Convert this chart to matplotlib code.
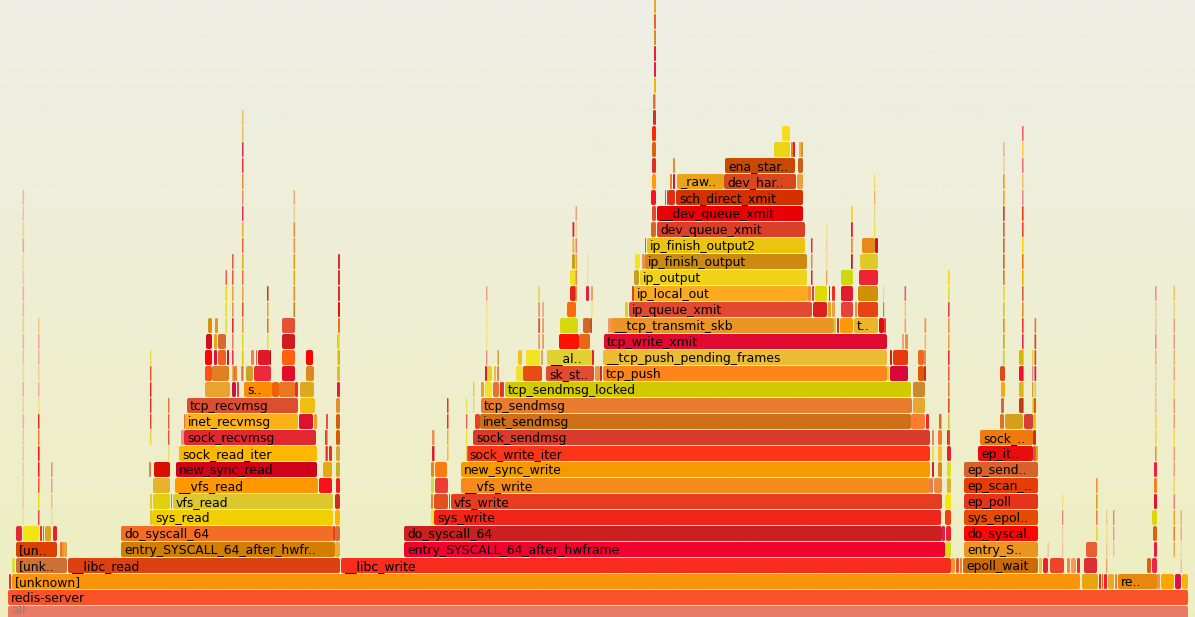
import numpy as np
import matplotlib
matplotlib.use("Agg")
import matplotlib.pyplot as plt
from matplotlib.patches import FancyBboxPatch

# ---- frames per stack depth: sample start, sample end, colour ----
s00=[8]; e00=[1188]; c00=['#e87a66']
s01=[8]; e01=[1188]; c01=['#fb5229']
s02=[9,12,1082,1099,1102,1104,1108,1115,1118,1157,1161,1175,1182]
e02=[11,1080,1098,1101,1103,1107,1114,1117,1157,1160,1174,1181,1188]
c02=['#e03040','#fd930a','#e8a510','#e83010','#f06020','#ee2030','#e8a82a','#f08030','#e8870e','#f09050','#ffa500','#e0104a','#f5b510']
s03=[12,16,68,341,951,956,960,963,1039,1043,1050,1067,1071,1077,1084,1147,1152]
e03=[15,67,340,951,955,959,962,1038,1042,1048,1064,1070,1076,1080,1097,1151,1157]
c03=['#d8e040','#cf7136','#dd4012','#f92d1d','#e0a030','#f05030','#f08030','#cc6a05','#e8c040','#ee2030','#f04428','#f08850','#f09860','#e83030','#dd2c35','#e85a10','#e82848']
s04=[16,60,62,64,121,335,404,945,964,1086,1154]
e04=[57,62,64,67,335,340,945,951,1038,1097,1157]
c04=['#dc4004','#f07020','#f09030','#eca040','#d27f00','#e8ae34','#f0032f','#d4de10','#ec9520','#e86030','#e81c40']
s05=[16,23,40,43,45,53,121,333,335,404,942,946,964,1153]
e05=[22,39,42,44,51,57,333,335,340,942,945,951,1038,1157]
c05=['#e52a35','#f2e510','#e83040','#f06030','#e0a518','#e82030','#f36d25','#e84010','#dc6b3a','#cc2020','#dc2050','#f32030','#ff0505','#e06010']
s06=[150,152,335,431,434,945,964,1152]
e06=[152,333,340,434,941,951,1038,1157]
c06=['#e0c040','#f4cf00','#ffb400','#f2e520','#f02418','#f04010','#e64b05','#d8d810']
s07=[150,153,171,173,335,431,434,449,451,945,964,1154]
e07=[152,170,172,333,340,433,448,450,942,951,1038,1157]
c07=['#e8c830','#e0d010','#f07030','#dcc82e','#d02c1c','#f08030','#e05020','#e84030','#e63c20','#f4e808','#e5341a','#e81030']
s08=[153,175,319,336,431,435,461,930,934,947,964,1154]
e08=[170,318,332,340,434,448,930,933,942,951,1038,1157]
c08=['#e6b42c','#ff9800','#fe1018','#f01c20','#c8e040','#ee3c38','#f68a1a','#e08050','#f08840','#e0b030','#e83c08','#f08020']
s09=[149,154,176,323,336,431,435,461,932,938,947,964,1154]
e09=[151,170,317,332,340,434,447,930,934,942,951,1038,1157]
c09=['#e08050','#d81000','#d0021a','#e6a816','#c8b020','#f08020','#fa7c10','#f49b02','#d81c30','#d88820','#d8e020','#d8622c','#f02040']
s10=[179,325,329,336,432,466,932,938,947,978,1033,1036]
e10=[317,328,332,340,434,930,934,942,951,1033,1036,1038]
c10=['#ffb700','#f0a020','#e83020','#d8a840','#e02030','#fc3519','#e0e060','#f4c030','#e82030','#e80e0e','#c86048','#f0a000']
s11=[181,184,325,336,432,473,932,938,947,980,1033]
e11=[184,316,327,340,433,930,934,942,950,1033,1036]
c11=['#f09080','#e12830','#e83050','#d85c04','#e89050','#d83a2c','#e08080','#f07830','#e02030','#f0780c','#d03010']
s12=[184,185,299,314,326,336,475,480,911,926,939,1000,1005,1024,1033]
e12=[185,298,313,317,328,340,480,911,925,929,941,1004,1023,1033,1036]
c12=['#e87050','#feb017','#e01030','#f0a020','#e85040','#d06010','#e84020','#cf6f17','#fc7c30','#f02828','#d07020','#e07020','#d4a01c','#d43f38','#ffc000']
s13=[187,300,336,481,913,1001,1019,1033.5]
e13=[298,315,340,912,925,1004,1023,1036]
c13=['#db4e30','#f0be10','#e09030','#e87d2f','#e6a830','#d06840','#c83810','#f05010']
s14=[205,232,237,244,272,279,295,300,337,481,485,493,500,502,505,913,1001,1019]
e14=[230,236,239,272,279,295,298,314,340,484,492,499,502,504,911,925,1005,1023]
c14=['#e8a42c','#d01040','#e04050','#ff8a05','#f06008','#e87820','#e83030','#e0a820','#f01838','#e8a030','#f4e020','#e87030','#e83010','#d84040','#d2ca00','#cc8830','#f0a818','#d8b810']
s15=[205,212,232,235,241,246,254,282,306,337,485,487,494,497,516,523,546,595,600,603,887,890,918,924,1000,1019]
e15=[212,229,235,237,243,253,271,295,314,340,487,492,496,499,523,542,594,600,602,887,889,908,924,926,1005,1023]
c15=['#fb4f1c','#e08020','#f06040','#f08020','#f09040','#d0a020','#ee2a3a','#e20c2c','#e08820','#e0c020','#e01838','#e8d020','#e0c040','#f08050','#f0e030','#e84c14','#e44a30','#d8a040','#e02020','#fd851a','#f0d020','#d8083a','#e05808','#c03020','#e04818','#f01030']
s16=[205,214,218,227,251,256,258,270,282,306,337,518,526,541,547,592,603,890,893,918,924,1019]
e16=[212,217,226,229,254,257,270,271,295,313,340,522,540,543,592,594,887,892,908,924,926,1023]
c16=['#ff0505','#e01040','#f06020','#d81020','#f08050','#e06040','#e01828','#b81010','#ff6010','#ff0500','#e8e800','#f0c020','#f4e420','#e0a850','#e0d030','#e82020','#ecbb34','#c82010','#e8380c','#f06820','#e09050','#d4b800']
s17=[206,214,218,282,337,559,579,604,902,905]
e17=[212,217,226,295,340,579,590,887,904,908]
c17=['#d01020','#e0a818','#d86830','#d01c20','#e0c020','#ff1005','#e86818','#e00b30','#f0a080','#f09030']
s18=[208,215,282,560,583,590,608,611,834,837,840,854,879,884]
e18=[212,218,295,578,590,592,611,834,836,839,853,878,884,886]
c18=['#d89010','#f09020','#e65034','#d8d810','#d06820','#c05030','#f09860','#ea9526','#d8d020','#d03030','#fa9a08','#ecb428','#e00c0c','#e84030']
s19=[567,625,629,813,828,832,841,855,858]
e19=[576,628,812,827,831,835,853,857,878]
c19=['#ff6a08','#e0d010','#e14930','#de1f20','#e8a020','#e8a040','#e8403a','#f09030','#e64414']
s20=[570,586,591,632,634,808,812,815,829,832,841,858]
e20=[576,589,593,634,808,811,814,827,830,835,853,878]
c20=['#e02818','#e81c40','#f0a060','#d84020','#fbaa21','#f09030','#e04030','#e0d800','#e02020','#f03020','#e01c30','#cf9005']
s21=[570,634,640,841,859]
e21=[576,639,807,853,878]
c21=['#f0e020','#c8a020','#f0d218','#d0d810','#f02235']
s22=[572,635,642,645,860]
e22=[575,640,645,807,878]
c22=['#c8a020','#f0e420','#f09050','#cc8b10','#e0c828']
s23=[645,647,862,875]
e23=[646,805,875,878]
c23=['#e05050','#eac40e','#e88a1a','#d01030']
s24=[651,657]
e24=[656,805]
c24=['#d86820','#dc3f28']
s25=[652,657]
e25=[656,803]
c25=['#e04830','#e80208']
s26=[651,665,667,668,676]
e26=[656,666,668,675,803]
c26=['#fc1024','#e05050','#f03030','#e02c18','#d53000']
s27=[652,670,673,677,724,797]
e27=[656,672,675,724,796,803]
c27=['#ff9c08','#f08020','#e01030','#eaa516','#d9471e','#e8a040']
s28=[652,673,725,798]
e28=[656,675,795,803]
c28=['#e02c28','#e09030','#ca4900','#c86018']
s29=[652,774,791,793,799,801]
e29=[656,790,793,795,801,803]
c29=['#e06010','#ecd418','#f08020','#e02020','#f0b040','#e09030']
s30=[652,782]
e30=[656,790]
c30=['#fb2a04','#f8da20']
s31=[653]; e31=[656]; c31=['#c83820']
s32=[653]; e32=[655.5]; c32=['#e07030']
s33=[654]; e33=[656]; c33=['#e8b800']
s34=[654]; e34=[656]; c34=['#e02040']
s35=[654]; e35=[656]; c35=['#e82030']
s36=[654]; e36=[656]; c36=['#d89020']
s37=[654]; e37=[656]; c37=['#f06020']
s38=[654]; e38=[656]; c38=['#e8a820']

frame_starts=[s00,s01,s02,s03,s04,s05,s06,s07,s08,s09,s10,s11,s12,s13,s14,s15,s16,s17,s18,s19,s20,s21,s22,s23,s24,s25,s26,s27,s28,s29,s30,s31,s32,s33,s34,s35,s36,s37,s38]
frame_ends=[e00,e01,e02,e03,e04,e05,e06,e07,e08,e09,e10,e11,e12,e13,e14,e15,e16,e17,e18,e19,e20,e21,e22,e23,e24,e25,e26,e27,e28,e29,e30,e31,e32,e33,e34,e35,e36,e37,e38]
frame_colors=[c00,c01,c02,c03,c04,c05,c06,c07,c08,c09,c10,c11,c12,c13,c14,c15,c16,c17,c18,c19,c20,c21,c22,c23,c24,c25,c26,c27,c28,c29,c30,c31,c32,c33,c34,c35,c36,c37,c38]

# ---- labelled frames ----
label_depth=[0,1,2,2,3,3,3,3,4,4,4,4,5,5,5,6,6,6,7,7,7,8,8,8,9,9,9,10,10,10,11,11,11,12,12,13,13,14,14,15,15,16,16,17,18,18,19,20,21,22,23,24,25,26,27,27,28]
label_start=[8,8,12,1118,16,68,341,963,16,121,404,964,121,404,964,152,434,964,173,451,964,175,461,964,176,461,964,179,466,978,184,473,980,185,480,187,481,244,505,546,603,547,603,604,611,854,629,634,640,645,647,657,657,676,677,724,725]
label_text=['all','redis-server','[unknown]','re..','[unk..','__libc_read','__libc_write','epoll_wait','[un..',
 'entry_SYSCALL_64_after_hwfr..','entry_SYSCALL_64_after_hwframe','entry_S..','do_syscall_64','do_syscall_64','do_syscal..',
 'sys_read','sys_write','sys_epol..','vfs_read','vfs_write','ep_poll','__vfs_read','__vfs_write','ep_scan_..',
 'new_sync_read','new_sync_write','ep_send..','sock_read_iter','sock_write_iter','ep_it..','sock_recvmsg','sock_sendmsg','sock_..',
 'inet_recvmsg','inet_sendmsg','tcp_recvmsg','tcp_sendmsg','s..','tcp_sendmsg_locked','sk_st..','tcp_push','__al..',
 '__tcp_push_pending_frames','tcp_write_xmit','__tcp_transmit_skb','t..','ip_queue_xmit','ip_local_out','ip_output',
 'ip_finish_output','ip_finish_output2','dev_queue_xmit','__dev_queue_xmit','sch_direct_xmit','_raw..','dev_har..','ena_star..']

# ---- one-sample-wide towers: start, samples, lowest depth, colours from the bottom up ----
spike_start=[22.5,38,51,150,168,326,433,447,466,473,486,497.5,538.3,542.3,575.5,572.5,587,591.3,242,293.5,232,225.5,267,338,
 948,904.5,924.5,1003,1022,1034.5,1032,1155,1173.5,1180.5,1062,1096,1106,1113,1047.5,874,851,826,811,883,940]
spike_width=[1.6,1.5,1.5,1.4,1.4,1.6,1.5,1.5,1.3,1.4,1.4,1.5,1.6,1.6,1.6,1.8,1.4,1.5,1.5,1.6,1.6,1.5,1.5,2.0,
 1.6,1.6,1.7,1.7,1.6,1.7,1.4,1.6,1.5,1.5,1.3,1.6,1.4,1.4,1.4,1.3,1.8,1.4,1.5,1.2,1.5]
spike_base=[6,6,6,11,10,10,10,10,10,13,16,16,17,17,20,23,21,19,15,19,15,18,17,15,
 10,18,17,16,13,14,13,10,4,3,4,5,3,4,4,24,22,21,21,19,12]
spike_colors=[
 ['#f0e090','#f0c8a8','#f0d0a0','#f0c8a0','#f0c0a8','#f0c0a8','#f0b0a0','#f0d0a0','#f0b0a0','#e8e090','#f0c0a0','#f0b0a0','#e8d880','#f0b8a0','#f0b0a0','#f0c8a8','#e8e090','#f0a898','#e8d880','#f0c0a0','#f0b8a0'],
 ['#e84848','#e8e010','#ff5030','#ff1808','#ff1008','#f08030','#e03010','#f0e080','#f8a8a0','#f0d090','#f0b0a0','#f8a0a0','#f0c880'],
 ['#e8e0a0','#f0c080','#e8a090','#e89080'],
 ['#f0d040','#e04020','#e02820','#e02020','#e05020','#e8e040'],
 ['#e8e060','#e85030','#e06030','#e87040'],
 ['#e83020','#e85040','#e85040'],
 ['#d81c30','#e89050'],
 ['#f0c020','#f0b020','#f03010','#e04010'],
 ['#e0d860','#e0e040','#e06050','#e8e060'],
 ['#e8e040','#f0c820'],
 ['#f08888','#f0e090','#f0e090','#f0e090','#f0a080'],
 ['#c8a030'],
 ['#e09070','#e04030','#e09050','#f0d040'],
 ['#f09040','#f09060','#e8a080'],
 ['#e89050','#e09050','#f0a030','#f08080','#f0d090','#f0a080'],
 ['#f0b020','#d82040'],
 ['#f0e0a0','#f0e0a0'],
 ['#f0e090'],
 ['#d87040','#d8c810','#d8d830','#e0a040','#e05030','#e8a040','#e87040','#d8b020','#e06040','#e0b030','#d83050','#e09070','#e09030','#e82c50','#c83040','#e0c060','#e0c060'],
 ['#c88010','#d89030','#e0a820','#d8a010','#f09050','#e89040','#f0d090','#f0a880'],
 ['#e8b040','#f03050','#e88050','#d82c40','#e89050','#e8a830','#e06040','#e06040'],
 ['#d8d840','#e8d830','#f0d020','#f06040'],
 ['#e8e800','#f07010','#e8a020','#d03020'],
 ['#e0c020','#e0b020','#e8e020','#e87020','#e81010','#d03030','#d03030','#d03030'],
 ['#e02030','#e05030','#d0c030','#d85030','#d88040','#e06040','#e03030','#f0a040','#f09050','#e04040','#d8e040','#f8d020'],
 ['#f0a070','#f8c860','#e06070'],
 ['#e0c060','#f09050'],
 ['#d8d020','#c8b020','#f09020','#d0d020','#f8d820','#d88030','#c87020','#d86830','#e86050','#d04030','#e0b020','#e8a020','#f0d0a0','#f0b890'],
 ['#c83810','#d8b810','#f01030','#d4b800','#e02840','#e83828','#e09020','#d86040','#f0b000','#f07010','#f8d800','#e84030','#e84000','#e88890','#f0c860','#f07080','#f8d040','#f06070'],
 ['#d0d040','#c82030','#d05010','#e04030','#e08040'],
 ['#d8d850','#d0a030','#f08090','#f0d020'],
 ['#d8a020','#f8d820','#f8d820','#f0b8a0','#f0c090','#f0c8a0','#f0b090','#f09090','#f0c8a0','#f0d080','#f09088'],
 ['#f0a840','#e08030','#f0a820','#f08080','#e8d860','#f0a070','#f0a070','#e8e050','#f0a060','#f09878','#e8d870','#f0a878','#f0b070','#f09888','#f0a080','#f0d080','#f0c060'],
 ['#f0c0a0','#f0e090','#f0b080','#f0b080'],
 ['#f0c0a0','#f0d0a0','#f08080','#f0e080'],
 ['#f0d040','#e88050','#d8a020','#f09030'],
 ['#f0a070','#f0c890','#f0e090','#f0c890'],
 ['#f0c090','#f09090','#f08080'],
 ['#f0c0a0'],
 ['#f0e040','#e0d880','#f0b060','#f0e060'],
 ['#c82020','#e89030','#e81c28','#f0d810'],
 ['#e8a060','#f0d8a0','#f0d0a0','#f0e090'],
 ['#e02020','#e88060','#e03030'],
 ['#d88020','#f0d0a0'],
 ['#d07020'],
]

W,H=1195,617
ROW=16.0
fig=plt.figure(figsize=(W/100,H/100),dpi=100)
ax=fig.add_axes([0,0,1,1])
ax.set_xlim(0,W)
y_low,y_high=(621-617)/ROW,621/ROW
ax.set_ylim(y_low,y_high)
ax.axis('off')

# background gradient of the flame graph page
grad=np.linspace(0,1,256)[:,None,None]
top=np.array([0xee,0xee,0xe6])/255; bot=np.array([0xee,0xee,0xc0])/255
img=top*(1-grad)+bot*grad
ax.imshow(img,extent=(0,W,y_low,y_high),aspect='auto',zorder=0,origin='upper')

BAR=15/16

def draw(start,end,depth,color):
    w=end-start
    if w<=0:
        return
    r=min(2.0,w/2*0.9)
    p=FancyBboxPatch((start,depth),w,BAR,boxstyle=f"round,pad=0,rounding_size={r}",
                     mutation_aspect=1/ROW,facecolor=color,edgecolor='none',linewidth=0,zorder=2)
    ax.add_patch(p)

for depth,(ss,ee,cc) in enumerate(zip(frame_starts,frame_ends,frame_colors)):
    for a,b,c in zip(ss,ee,cc):
        draw(a,b,depth,c)

for a,w,base,cols in zip(spike_start,spike_width,spike_base,spike_colors):
    for i,c in enumerate(cols):
        draw(a,a+w,base+i,c)

for d,x,t in zip(label_depth,label_start,label_text):
    is_root=(t=='all')
    ax.text(x+3,d+BAR/2+(0.16 if is_root else -0.08),t,fontsize=8.9,family='DejaVu Sans',va='center',ha='left',
            color='#9a8070' if is_root else 'black',zorder=3)

fig.savefig('out.png',dpi=100)
